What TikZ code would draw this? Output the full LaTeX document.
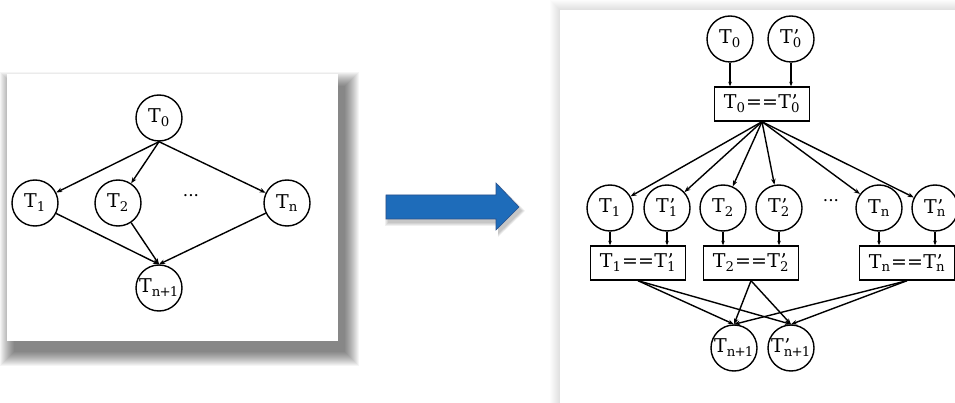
\documentclass[tikz,border=0pt]{standalone}
\usepackage{fontspec}
\setmainfont{DejaVu Serif}
\usetikzlibrary{arrows.meta}
\newcommand\Ts[1]{T\textsubscript{#1}}
\newcommand\Tp[1]{T\rlap{\kern0.6pt’}\textsubscript{#1}}
\newcommand\Teq[2]{\Ts{#1}\kern0.5pt==\kern0.5pt\Tp{#2}}
\newcommand\npo{n\kern-0.8pt+\kern-0.8pt1}
\begin{document}
\begin{tikzpicture}[x=1pt,y=-1pt,
  every node/.style={font=\fontsize{19}{22}\selectfont},
  cnode/.style={circle,draw,line width=1.4pt,minimum size=46pt,inner sep=0pt,fill=white},
  bnode/.style={rectangle,draw,line width=1.4pt,minimum height=34pt,minimum width=95pt,inner sep=1pt,fill=white},
  dots/.style={font=\fontsize{17}{20}\selectfont},
  arr/.style={line width=1.4pt,-{Stealth[length=6pt,width=4.5pt]}},
  sarr/.style={line width=1.4pt,-{Stealth[length=4.5pt,width=3.5pt]}}]
\useasboundingbox (0,0) rectangle (955,403);
\fill[white] (0,0) rectangle (955,403);
% left panel shadow
\foreach \i in {0,...,14}{
  \fill[black,opacity=0.04] ({14-\i},{86-\i}) rectangle ({345+\i},{352+\i});}
\fill[white] (7,74) rectangle (338,341);
% right panel glow
\foreach \i in {1,...,10}{
  \fill[black,opacity=0.012] ({560-\i},{10-\i}) rectangle (960,410);}
\fill[white] (560,10) rectangle (960,410);
% blue arrow with soft shadow
\foreach \i in {0,...,3}{
  \fill[black,opacity=0.06] ({388-\i},{199-\i}) -- ({498},{199-\i}) -- ({498},{187-\i}) -- ({522+\i},211) -- (498,{234+\i}) -- (498,{223+\i}) -- ({388-\i},{223+\i}) -- cycle;}
\filldraw[fill={rgb,255:red,30;green,108;blue,186},draw={rgb,255:red,40;green,80;blue,140},line width=0.6pt]
  (386,195) -- (496,195) -- (496,183) -- (519,207) -- (496,230) -- (496,219) -- (386,219) -- cycle;
% left graph
\node[cnode] (L0) at (159,118) {\Ts{0}};
\node[cnode] (L1) at (35,203) {\Ts{1}};
\node[cnode] (L2) at (118,203) {\Ts{2}};
\node[dots] (Ld) at (191,198) {···};
\node[cnode] (Ln) at (287,203) {\Ts{n}};
\node[cnode] (Lm) at (159,288) {\Ts{\npo}};
\draw[arr] (L0.south) -- (L1);
\draw[arr] (L0.south) -- (L2);
\draw[arr] (L0.south) -- (Ln);
\draw[arr] (L1) -- (Lm.north);
\draw[arr] (L2) -- (Lm.north);
\draw[arr] (Ln) -- (Lm.north);
% right graph
\node[cnode] (A0) at (730,39) {\Ts{0}};
\node[cnode] (B0) at (791,39) {\Tp{0}};
\node[bnode] (E0) at (762,104) {\Teq{0}{0}};
\node[cnode] (A1) at (610,208) {\Ts{1}};
\node[cnode] (B1) at (667,208) {\Tp{1}};
\node[cnode] (A2) at (723,208) {\Ts{2}};
\node[cnode] (B2) at (779,208) {\Tp{2}};
\node[dots] (Rd) at (831,203) {···};
\node[cnode] (An) at (879,208) {\Ts{n}};
\node[cnode] (Bn) at (935,208) {\Tp{n}};
\node[bnode] (E1) at (638,263) {\Teq{1}{1}};
\node[bnode] (E2) at (751,263) {\Teq{2}{2}};
\node[bnode] (En) at (907,263) {\Teq{n}{n}};
\node[cnode] (Am) at (734,348) {\Ts{\npo}};
\node[cnode] (Bm) at (791,348) {\Tp{\npo}};
\draw[sarr] (A0.south) -- (A0.south |- E0.north);
\draw[sarr] (B0.south) -- (B0.south |- E0.north);
\foreach \c in {A1,B1,A2,B2,An,Bn}{\draw[arr] (E0.south) -- (\c);}
\draw[sarr] (A1.south) -- (A1.south |- E1.north);
\draw[sarr] (B1.south) -- (B1.south |- E1.north);
\draw[sarr] (A2.south) -- (A2.south |- E2.north);
\draw[sarr] (B2.south) -- (B2.south |- E2.north);
\draw[sarr] (An.south) -- (An.south |- En.north);
\draw[sarr] (Bn.south) -- (Bn.south |- En.north);
\foreach \e in {E1,E2,En}{
  \draw[arr] (\e.south) -- (Am.north);
  \draw[arr] (\e.south) -- (Bm.north);}
\end{tikzpicture}
\end{document}
